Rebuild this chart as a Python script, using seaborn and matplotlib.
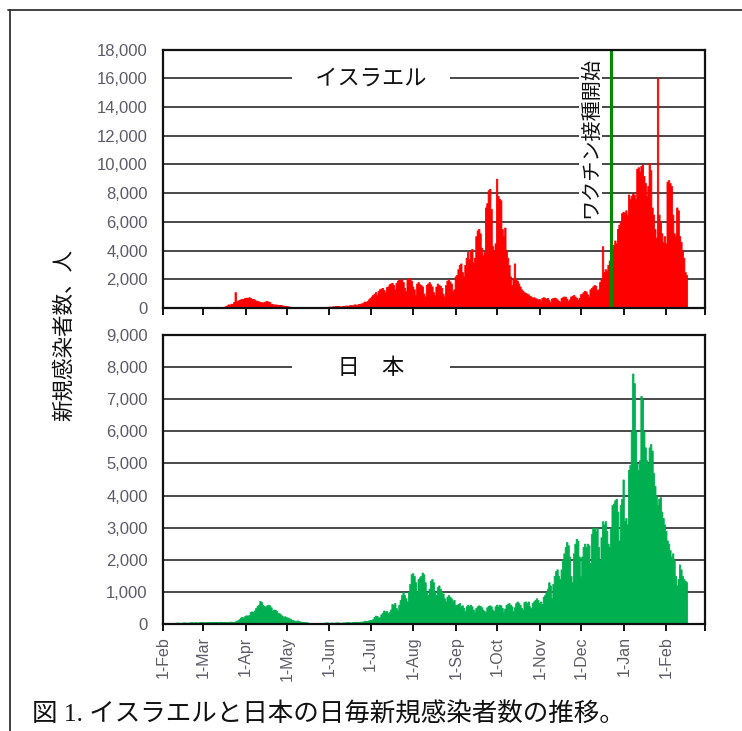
import numpy as np
import pandas as pd
import matplotlib
matplotlib.use("Agg")
import matplotlib.pyplot as plt
from matplotlib.lines import Line2D
from matplotlib.ticker import FuncFormatter
import seaborn as sns

# ---- Daily new cases, Israel (1 Feb 2020 - 15 Feb 2021), one list per month ----
israel_2020_02 = [0, 0, 0, 0, 0, 0, 0, 0, 0, 0, 0, 0, 0, 0, 0, 0, 0, 0, 0, 0,
                  0, 1, 0, 0, 0, 1, 1, 2, 1]
israel_2020_03 = [2, 3, 3, 5, 4, 5, 8, 10, 12, 20, 25, 30, 40, 50, 70, 90, 120, 180, 250, 230,
                  300, 280, 420, 1100, 500, 520, 560, 600, 640, 620, 700]
israel_2020_04 = [720, 680, 750, 700, 620, 640, 580, 520, 480, 450, 420, 400, 380, 420, 460,
                  480, 440, 420, 300, 260, 240, 250, 230, 220, 200, 210, 180, 160, 150, 140]
israel_2020_05 = [120, 100, 80, 70, 60, 40, 30, 25, 20, 18, 15, 20, 16, 12, 10, 14, 12, 10, 8, 15,
                  20, 18, 25, 20, 15, 30, 40, 50, 60, 80, 90]
israel_2020_06 = [100, 80, 120, 110, 130, 150, 140, 120, 100, 130, 150, 160, 170, 140, 190,
                  200, 180, 230, 250, 220, 240, 280, 300, 320, 380, 450, 420, 500, 600, 700]
israel_2020_07 = [800, 900, 1000, 1100, 900, 1200, 1300, 1350, 1400, 1250, 1100, 1450, 1500,
                  1650, 1700, 1750, 1600, 1300, 1750, 1900, 2000, 1950, 2000, 1800, 1400, 1200,
                  2000, 2050, 2100, 1900, 1500]
israel_2020_08 = [1300, 900, 1700, 1800, 1650, 1600, 1500, 1000, 800, 1600, 1700, 1800, 1650,
                  1500, 1100, 900, 1500, 1700, 1600, 1550, 1400, 1000, 800, 1600, 1900, 2000,
                  1850, 1700, 1200, 1300, 2200]
israel_2020_09 = [2300, 2700, 3000, 3100, 2500, 2200, 3000, 3500, 3900, 3400, 4000, 4100, 3200,
                  3500, 5000, 5400, 5500, 5200, 4200, 3700, 3900, 7000, 7300, 8200, 8300, 6900,
                  4300, 4000, 4500, 9000]
israel_2020_10 = [7800, 7600, 7500, 5500, 5000, 5600, 4000, 3500, 3000, 2200, 1600, 2100, 3100,
                  2000, 1900, 1700, 1500, 1300, 1200, 1100, 1050, 1000, 950, 850, 800, 700, 750,
                  680, 650, 600, 620]
israel_2020_11 = [500, 700, 750, 700, 650, 700, 550, 400, 650, 700, 720, 680, 600, 500, 450,
                  700, 750, 800, 780, 650, 500, 600, 800, 850, 900, 800, 700, 550, 700, 950]
israel_2020_12 = [1000, 1100, 1200, 1150, 950, 800, 1300, 1400, 1500, 1600, 1550, 1250, 1300,
                  1800, 2000, 4300, 2500, 2700, 2600, 3000, 3300, 4000, 4100, 4400, 4700, 4500,
                  5500, 5800, 6000, 6600, 6700]
israel_2021_01 = [6600, 6800, 6500, 7900, 7600, 7800, 8000, 7900, 7600, 9700, 9800, 9500, 9900,
                  10000, 9200, 8700, 7800, 8500, 10100, 9600, 7000, 6500, 5500, 4900, 16000,
                  6500, 6000, 5200, 4600, 5000, 4500]
israel_2021_02 = [8800, 8900, 8700, 8500, 6500, 5200, 5000, 7000, 6800, 5000, 4600, 4000, 3500,
                  2500, 2300]

# ---- Daily new cases, Japan ----
japan_2020_02 = [0, 0, 0, 1, 1, 2, 3, 5, 30, 40, 45, 40, 35, 40, 45, 50, 45, 40, 45, 50,
                 55, 50, 45, 55, 50, 45, 55, 60, 60]
japan_2020_03 = [55, 50, 55, 60, 60, 55, 65, 60, 55, 65, 60, 65, 70, 55, 65, 60, 55, 60, 65, 70,
                 75, 65, 60, 80, 100, 120, 150, 200, 220, 180, 250]
japan_2020_04 = [270, 250, 280, 380, 390, 380, 420, 500, 560, 600, 720, 680, 600, 560, 520,
                 580, 600, 580, 520, 420, 450, 440, 410, 350, 330, 300, 260, 220, 240, 210]
japan_2020_05 = [200, 180, 160, 130, 120, 100, 90, 110, 100, 80, 70, 60, 60, 50, 55, 40, 30, 30,
                 35, 30, 30, 28, 25, 30, 20, 25, 35, 40, 50, 45, 40]
japan_2020_06 = [35, 45, 40, 38, 45, 50, 45, 40, 35, 45, 50, 45, 55, 60, 50, 48, 55, 60, 65, 70,
                 60, 55, 70, 75, 80, 100, 90, 95, 110, 120]
japan_2020_07 = [125, 150, 220, 260, 250, 200, 210, 300, 350, 420, 390, 400, 350, 370, 450, 620,
                 600, 650, 500, 420, 600, 750, 900, 1000, 900, 800, 700, 1000, 1250, 1550, 1580]
japan_2020_08 = [1500, 1300, 1000, 1400, 1450, 1500, 1600, 1550, 1300, 1000, 900, 1100, 1350,
                 1400, 1300, 1000, 900, 1150, 1200, 1100, 1000, 950, 800, 700, 850, 900, 850,
                 800, 700, 750, 600]
japan_2020_09 = [600, 620, 650, 550, 580, 500, 400, 550, 600, 560, 600, 550, 450, 380, 500, 550,
                 580, 560, 520, 450, 400, 380, 520, 560, 580, 550, 450, 400, 550, 600]
japan_2020_10 = [550, 600, 580, 500, 380, 480, 600, 620, 650, 600, 550, 400, 520, 650, 700, 650,
                 600, 500, 450, 680, 700, 650, 700, 550, 500, 650, 700, 750, 800, 750, 650]
japan_2020_11 = [700, 620, 850, 900, 1000, 1100, 1300, 1200, 800, 1250, 1500, 1650, 1700, 1500,
                 1400, 1700, 2000, 2200, 2400, 2550, 2450, 2100, 1500, 1300, 2200, 2500, 2650,
                 2600, 2100, 1500]
japan_2020_12 = [2100, 2400, 2500, 2400, 2500, 2450, 1900, 2800, 3000, 3000, 2900, 3000, 2400,
                 2000, 2700, 3200, 3100, 3200, 2900, 2500, 2400, 3000, 3700, 3750, 3850, 3900,
                 3500, 2600, 3700, 3900, 4500]
japan_2021_01 = [3200, 3300, 3100, 4800, 4950, 6000, 7800, 7500, 6000, 5000, 4800, 5100, 7100,
                 7000, 6000, 5500, 5100, 5000, 5500, 5600, 5400, 4700, 4300, 4000, 3700, 3900,
                 3950, 3500, 3300, 3100, 2900]
japan_2021_02 = [2600, 2500, 2300, 2100, 2200, 2000, 1500, 1200, 1400, 1850, 1700, 1500, 1400,
                 1350, 1300]

start_date = "2020-02-01"
end_axis_date = "2021-03-01"
vaccine_date = "2020-12-23"

israel = (israel_2020_02 + israel_2020_03 + israel_2020_04 + israel_2020_05 + israel_2020_06
          + israel_2020_07 + israel_2020_08 + israel_2020_09 + israel_2020_10 + israel_2020_11
          + israel_2020_12 + israel_2021_01 + israel_2021_02)
japan = (japan_2020_02 + japan_2020_03 + japan_2020_04 + japan_2020_05 + japan_2020_06
         + japan_2020_07 + japan_2020_08 + japan_2020_09 + japan_2020_10 + japan_2020_11
         + japan_2020_12 + japan_2021_01 + japan_2021_02)

t0 = pd.Timestamp(start_date)
dates = pd.date_range(t0, periods=len(israel), freq="D")
df = pd.DataFrame({"date": dates, "israel": israel, "japan": japan})
df["day"] = (df["date"] - t0).dt.days

axis_end = (pd.Timestamp(end_axis_date) - t0).days
month_starts = pd.date_range(t0, pd.Timestamp("2021-02-01"), freq="MS")
tick_pos = [(d - t0).days for d in month_starts]
tick_lab = [f"1-{d.strftime('%b')}" for d in month_starts]
vaccine_day = (pd.Timestamp(vaccine_date) - t0).days

sns.set_theme(style="white")
plt.rcParams["font.family"] = ["Liberation Sans", "Noto Sans CJK JP", "DejaVu Sans"]
CJK = ["Noto Sans CJK JP", "DejaVu Sans"]

W, H = 742, 731
fig = plt.figure(figsize=(W / 100, H / 100), dpi=100)


def px_axes(left, top, right, bottom):
    return fig.add_axes([left / W, 1 - bottom / H, (right - left) / W, (bottom - top) / H])


ax_il = px_axes(163, 49.5, 705, 308)
ax_jp = px_axes(163, 335, 705, 624)

RED = "#ff0000"
GREEN = "#00b050"
GRID = "#3a3a3a"
LABEL = "#5c5c68"

panels = [
    (ax_il, "israel", RED, 18000, 2000, "　イスラエル　", 16000),
    (ax_jp, "japan", GREEN, 9000, 1000, "　　日　本　　", 8000),
]

for ax, col, color, ymax, step, title, title_y in panels:
    # one day per bin, drawn as a filled step outline so adjacent days merge cleanly
    sns.histplot(data=df, x="day", weights=col, binwidth=1, binrange=(0, len(df)),
                 element="step", fill=True, color=color, edgecolor=color, linewidth=0.6,
                 alpha=1.0, ax=ax, zorder=2)
    ax.set_xlim(0, axis_end)
    ax.set_ylim(0, ymax)
    ax.set_yticks(np.arange(0, ymax + 1, step))
    ax.yaxis.set_major_formatter(FuncFormatter(lambda v, p: f"{int(v):,}"))
    ax.set_xticks(tick_pos + [axis_end])
    ax.set_axisbelow(True)
    ax.yaxis.grid(True, color=GRID, linewidth=1.3)
    ax.xaxis.grid(False)
    for sp in ax.spines.values():
        sp.set_visible(True)
        sp.set_color("#111111")
        sp.set_linewidth(1.6)
        sp.set_zorder(6)
    ax.tick_params(axis="y", length=0, pad=11, labelsize=12, labelcolor=LABEL)
    ax.tick_params(axis="x", direction="out", length=5, width=1.4, color="#111111",
                   bottom=True, pad=4)
    ax.set_xlabel("")
    ax.set_ylabel("")
    ax.text(axis_end * 0.383, title_y, title, ha="center", va="center", fontsize=16,
            family=CJK, color="#111111", zorder=5,
            bbox=dict(facecolor="white", edgecolor="none", boxstyle="square,pad=0.05"))

ax_il.set_xticklabels([])
ax_jp.set_xticklabels(tick_lab + [""], rotation=90, fontsize=11.5, color=LABEL)

# vaccination start marker
ax_il.axvline(vaccine_day, color="#008a00", linewidth=2.2, zorder=4)
ax_il.text(vaccine_day - 15, 17450, "ワクチン接種開始", rotation=90, ha="center", va="top",
           fontsize=14.5, family=CJK, color="#111111", zorder=5,
           bbox=dict(facecolor="white", edgecolor="none", boxstyle="square,pad=0.05"))

fig.text(64 / W, 1 - 335 / H, "新規感染者数、人", rotation=90, ha="center", va="center",
         fontsize=15.5, family=CJK, color="#111111")

fig.text(32 / W, 1 - 714 / H, "図 1. イスラエルと日本の日毎新規感染者数の推移。",
         ha="left", va="center", fontsize=18.4,
         family=["Liberation Serif", "Noto Sans CJK JP"], color="#111111")

# outer frame
fig.add_artist(Line2D([8 / W, 1.0], [1 - 10 / H, 1 - 10 / H], transform=fig.transFigure,
                      color="#333333", linewidth=1.3))
fig.add_artist(Line2D([10 / W, 10 / W], [0.0, 1 - 10 / H], transform=fig.transFigure,
                      color="#333333", linewidth=1.3))

fig.savefig("out.png", dpi=100)
